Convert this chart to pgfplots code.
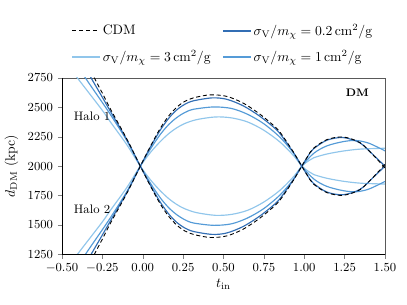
\documentclass[border=0pt]{standalone}
\usepackage{pgfplots}
\pgfplotsset{compat=1.18}
\usepackage{pgfplotstable}
\definecolor{sigA}{RGB}{50,110,180}
\definecolor{sigB}{RGB}{85,155,215}
\definecolor{sigC}{RGB}{145,198,235}

\pgfplotstableread{
t h1 h2
-0.42 3060 940
-0.35 2880 1120
-0.30 2750 1250
-0.25 2620 1380
-0.20 2485 1515
-0.10 2235 1765
-0.015 2000 2000
0.05 1825 2175
0.108 1680 2320
0.16 1575 2425
0.21 1500 2500
0.26 1450 2550
0.314 1420 2580
0.417 1394 2606
0.52 1407 2593
0.623 1465 2535
0.727 1560 2440
0.83 1680 2320
0.88 1770 2230
0.933 1880 2120
0.985 2000 2000
1.02 2080 1920
1.056 2150 1850
1.14 2225 1775
1.24 2248 1752
1.345 2200 1800
1.43 2090 1910
1.50 1985 2015
}\cdm

\pgfplotstableread{
t h1 h2
-0.42 2990 1010
-0.32 2750 1250
-0.25 2585 1415
-0.20 2465 1535
-0.10 2228 1772
-0.015 2000 2000
0.05 1832 2168
0.108 1695 2305
0.16 1595 2405
0.21 1523 2477
0.26 1475 2525
0.314 1445 2555
0.43 1420 2580
0.52 1432 2568
0.623 1488 2512
0.727 1578 2422
0.83 1693 2307
0.88 1780 2220
0.933 1885 2115
0.985 2000 2000
1.02 2078 1922
1.056 2145 1855
1.14 2220 1780
1.24 2243 1757
1.345 2198 1802
1.43 2092 1908
1.50 2000 2000
}\sa

\pgfplotstableread{
t h1 h2
-0.47 3000 1000
-0.355 2750 1250
-0.25 2540 1460
-0.20 2438 1562
-0.10 2220 1780
-0.015 2000 2000
0.05 1850 2150
0.108 1732 2268
0.16 1648 2352
0.21 1588 2412
0.26 1545 2455
0.314 1517 2483
0.44 1497 2503
0.55 1510 2490
0.65 1560 2440
0.75 1640 2360
0.85 1755 2245
0.935 1890 2110
0.985 2000 2000
1.06 2110 1890
1.14 2172 1828
1.24 2208 1792
1.32 2218 1782
1.40 2195 1805
1.50 2130 1870
}\sb

\pgfplotstableread{
t h1 h2
-0.52 2960 1040
-0.405 2750 1250
-0.254 2481 1519
-0.20 2375 1625
-0.10 2185 1815
-0.015 2000 2000
0.05 1880 2120
0.108 1792 2208
0.16 1725 2275
0.21 1675 2325
0.26 1638 2362
0.333 1605 2395
0.45 1582 2418
0.55 1590 2410
0.65 1625 2375
0.75 1695 2305
0.85 1795 2205
0.935 1912 2088
0.985 2000 2000
1.03 2048 1952
1.06 2072 1928
1.14 2103 1897
1.24 2128 1872
1.35 2145 1855
1.50 2152 1848
}\sc

\begin{document}
\begin{tikzpicture}
\begin{axis}[
  scale only axis, width=236pt, height=129pt,
  xmin=-0.5, xmax=1.5, ymin=1250, ymax=2750,
  xtick={-0.5,-0.25,0,0.25,0.5,0.75,1,1.25,1.5},
  ytick={1250,1500,1750,2000,2250,2500,2750},
  xticklabel style={/pgf/number format/.cd, fixed, fixed zerofill, precision=2},
  yticklabel style={/pgf/number format/.cd, fixed, 1000 sep={}},
  tick label style={font=\small},
  tick align=outside, xtick pos=bottom, ytick pos=left,
  major tick length=3pt,
  axis line style={black!65},
  xlabel={$t_{\rm in}$}, ylabel={$d_{\rm DM}$ (kpc)},
  xlabel style={yshift=2pt},
  legend columns=2,
  legend cell align=left,
  legend style={draw=none, fill=none, at={(0.5,1.05)}, anchor=south,
    /tikz/every even column/.append style={column sep=7pt},
    row sep=5.4pt, font=\normalsize},
  legend image code/.code={\draw[mark repeat=2,mark phase=2] plot coordinates {(0cm,0cm) (0.35cm,0cm) (0.7cm,0cm)};},
]
\addlegendimage{black, densely dashed, line width=0.7pt}
\addlegendentry{CDM}
\addlegendimage{legend image code/.code={\fill[sigA] (0cm,-0.45pt) rectangle (0.7cm,0.45pt);}}
\addlegendentry{$\sigma_{\rm V}/m_\chi = 0.2\,{\rm cm}^2/{\rm g}$}
\addlegendimage{legend image code/.code={\fill[sigC] (0cm,-0.45pt) rectangle (0.7cm,0.45pt);}}
\addlegendentry{$\sigma_{\rm V}/m_\chi = 3\,{\rm cm}^2/{\rm g}$}
\addlegendimage{legend image code/.code={\fill[sigB] (0cm,-0.45pt) rectangle (0.7cm,0.45pt);}}
\addlegendentry{$\sigma_{\rm V}/m_\chi = 1\,{\rm cm}^2/{\rm g}$}

\addplot[sigC, line width=0.85pt, smooth, forget plot] table[x=t, y=h1] {\sc};
\addplot[sigC, line width=0.85pt, smooth, forget plot] table[x=t, y=h2] {\sc};
\addplot[sigB, line width=0.85pt, smooth, forget plot] table[x=t, y=h1] {\sb};
\addplot[sigB, line width=0.85pt, smooth, forget plot] table[x=t, y=h2] {\sb};
\addplot[sigA, line width=0.85pt, smooth, forget plot] table[x=t, y=h1] {\sa};
\addplot[sigA, line width=0.85pt, smooth, forget plot] table[x=t, y=h2] {\sa};
\addplot[black, densely dashed, line width=0.65pt, smooth, forget plot] table[x=t, y=h1] {\cdm};
\addplot[black, densely dashed, line width=0.65pt, smooth, forget plot] table[x=t, y=h2] {\cdm};

\draw[black, line width=0.6pt] (rel axis cs:0,1) -- (rel axis cs:0,0) -- (rel axis cs:1,0);
\node[anchor=east, font=\footnotesize\bfseries] at (rel axis cs:0.965,0.915) {DM};
\node[anchor=west, font=\small] at (rel axis cs:0.022,0.785) {Halo 1};
\node[anchor=west, font=\small] at (rel axis cs:0.022,0.254) {Halo 2};
\end{axis}
\path ([xshift=-45.3pt,yshift=-36.5pt]current axis.south west) rectangle ([xshift=16.1pt,yshift=56.9pt]current axis.north east);
\end{tikzpicture}
\end{document}
